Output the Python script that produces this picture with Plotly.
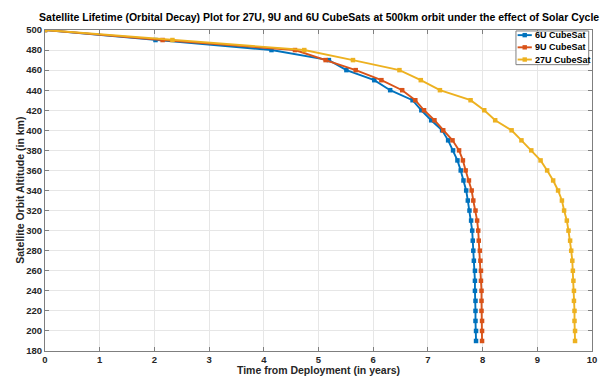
import plotly.graph_objects as go

# Orbit altitude samples (km), shared by all three satellites
altitude_km = [500, 490, 480, 470, 460, 450, 440, 430, 420, 410, 400, 390, 380, 370, 360,
               350, 340, 330, 320, 310, 300, 290, 280, 270, 260, 250, 240, 230, 220, 210,
               200, 190]

# Time from deployment (years) at which each altitude is reached
years_6u = [0.00, 2.02, 4.14, 5.19, 5.51, 6.02, 6.31, 6.72, 6.88, 7.06, 7.26, 7.37, 7.46, 7.54, 7.60,
            7.65, 7.70, 7.73, 7.76, 7.79, 7.81, 7.82, 7.83, 7.84, 7.86, 7.86, 7.86, 7.87, 7.87, 7.87,
            7.88, 7.88]
years_9u = [0.00, 2.15, 4.57, 5.13, 5.68, 6.15, 6.53, 6.77, 6.93, 7.12, 7.28, 7.45, 7.57, 7.64, 7.69,
            7.75, 7.80, 7.83, 7.87, 7.90, 7.92, 7.93, 7.95, 7.96, 7.97, 7.97, 7.98, 7.98, 7.98, 7.99,
            7.99, 7.99]
years_27u = [0.00, 2.33, 4.74, 5.63, 6.48, 6.87, 7.22, 7.78, 8.03, 8.23, 8.53, 8.71, 8.89, 9.06, 9.18,
             9.29, 9.38, 9.45, 9.49, 9.54, 9.57, 9.60, 9.62, 9.64, 9.65, 9.66, 9.67, 9.67, 9.68, 9.68,
             9.69, 9.69]

series_names = ["6U CubeSat", "9U CubeSat", "27U CubeSat"]
series_years = [years_6u, years_9u, years_27u]
series_colors = ["#0072BD", "#D95319", "#EDB120"]

x_ticks = list(range(0, 11))
y_ticks = list(range(180, 501, 20))

FONT = "Liberation Sans, Arial, sans-serif"

fig = go.Figure()
for name, yrs, col in zip(series_names, series_years, series_colors):
    fig.add_trace(go.Scatter(
        x=yrs, y=altitude_km, name=name, mode="lines+markers",
        line=dict(color=col, width=1.9),
        marker=dict(symbol="square", size=4.5, color=col, line=dict(width=0)),
    ))

axis_common = dict(
    showgrid=True, gridcolor="#e6e6e6", gridwidth=1,
    showline=True, linecolor="#7f7f7f", linewidth=1, mirror="allticks",
    ticks="inside", ticklen=4, tickcolor="#7f7f7f",
    tickfont=dict(family=FONT, size=9.5, color="#262626", weight="bold"),
    zeroline=False,
)

# Compact legend box in the upper-right corner of the axes
legend_shapes = [dict(
    type="rect", xref="paper", yref="paper",
    x0=0.861, x1=0.994, y0=0.892, y1=0.997,
    fillcolor="white", line=dict(color="#7f7f7f", width=1), layer="above",
)]
notes = []
row_y = [0.984, 0.946, 0.908]
for name, col, ry in zip(series_names, series_colors, row_y):
    legend_shapes.append(dict(
        type="line", xref="paper", yref="paper",
        x0=0.864, x1=0.890, y0=ry, y1=ry,
        line=dict(color=col, width=1.9), layer="above",
    ))
    legend_shapes.append(dict(
        type="rect", xref="paper", yref="paper",
        xsizemode="pixel", ysizemode="pixel", xanchor=0.877, yanchor=ry,
        x0=-2.2, x1=2.2, y0=-2.2, y1=2.2,
        fillcolor=col, line=dict(width=0), layer="above",
    ))
    notes.append(dict(
        text="<b>" + name + "</b>", xref="paper", yref="paper",
        x=0.892, y=ry, xanchor="left", yanchor="middle", showarrow=False,
        font=dict(family=FONT, size=9, color="#000000"),
    ))

# Vertical axis title, placed beside the tick labels
notes.append(dict(
    text="<b>Satellite Orbit Altitude (in km)</b>", xref="paper", yref="paper",
    x=-0.047, y=0.5, xanchor="center", yanchor="middle", textangle=-90,
    showarrow=False, font=dict(family=FONT, size=10.5, color="#262626"),
))

fig.update_layout(
    width=601, height=376,
    margin=dict(l=45, r=9, t=30, b=25),
    paper_bgcolor="white", plot_bgcolor="white",
    font=dict(family=FONT, color="#262626"),
    showlegend=False,
    title=dict(
        text="<b>Satellite Lifetime (Orbital Decay) Plot for 27U, 9U and 6U CubeSats at 500km orbit under the effect of Solar Cycle</b>",
        x=0.531, xanchor="center", y=0.955, yanchor="middle",
        font=dict(family=FONT, size=10.5, color="#000000"),
    ),
    xaxis=dict(
        range=[0, 10], tickvals=x_ticks, automargin=False,
        title=dict(text="<b>Time from Deployment (in years)</b>", standoff=2,
                   font=dict(family=FONT, size=10.5, color="#262626")),
        **axis_common,
    ),
    yaxis=dict(
        range=[180, 500], tickvals=y_ticks, automargin=False,
        **axis_common,
    ),
    shapes=legend_shapes,
    annotations=notes,
)

fig.write_html("out.html")
